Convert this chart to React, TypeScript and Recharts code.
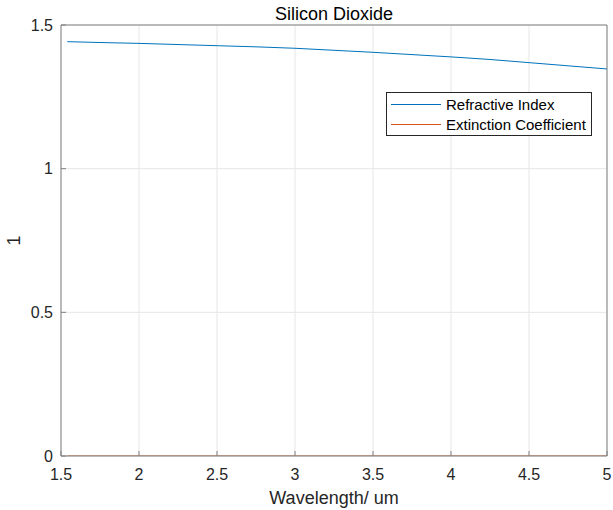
import { LineChart, Line, XAxis, YAxis, CartesianGrid, Label } from "recharts";

const wavelengths = [1.54, 1.75, 2, 2.25, 2.5, 2.75, 3, 3.25, 3.5, 3.75, 4, 4.25, 4.5, 4.75, 5];
const refractiveIndex = [1.442, 1.439, 1.436, 1.432, 1.428, 1.424, 1.419, 1.412, 1.405, 1.397, 1.389, 1.38, 1.369, 1.358, 1.347];
const extinctionCoefficient = [0, 0, 0, 0, 0, 0, 0, 0, 0, 0, 0, 0, 0, 0, 0];
const xTicks = [1.5, 2, 2.5, 3, 3.5, 4, 4.5, 5];
const yTicks = [0, 0.5, 1, 1.5];

const seriesNames = ["Refractive Index", "Extinction Coefficient"];
const seriesColors = ["#0072BD", "#D95319"];

const data = wavelengths.map((w, i) => ({
  w,
  n: refractiveIndex[i],
  k: extinctionCoefficient[i],
}));

const font = "'Liberation Sans', Arial, sans-serif";
const tickStyle = { fontSize: 16, fill: "#262626", fontFamily: font };
const labelStyle = { fontSize: 18, fill: "#262626", fontFamily: font };
const boxColor = "#808080";

function LegendBox() {
  return (
    <div
      style={{
        position: "absolute",
        left: 386,
        top: 92,
        boxSizing: "border-box",
        border: "1px solid #262626",
        background: "#fff",
        width: 206,
        height: 44,
        padding: "2px 0",
        fontFamily: font,
        fontSize: 15,
        color: "#000",
      }}
    >
      {seriesNames.map((name, i) => (
        <div key={name} style={{ display: "flex", alignItems: "center", height: 19.5 }}>
          <div style={{ width: 50, height: 0, borderTop: `1px solid ${seriesColors[i]}`, marginLeft: 4, marginRight: 5 }} />
          <span>{name}</span>
        </div>
      ))}
    </div>
  );
}

export default function App() {
  return (
    <div style={{ position: "fixed", left: 0, top: 0, width: 613, height: 510, background: "#fff" }}>
      <LineChart width={613} height={510} data={data} margin={{ top: 0, right: 0, bottom: 0, left: 0 }}>
        <CartesianGrid xAxisId="bottom" yAxisId="left" stroke="#e6e6e6" strokeWidth={1} />
        <XAxis
          xAxisId="bottom"
          dataKey="w"
          type="number"
          domain={[1.5, 5]}
          ticks={xTicks}
          height={54}
          tickSize={-5}
          tickMargin={18}
          tick={tickStyle}
          stroke={boxColor}
          interval={0}
          allowDataOverflow
        >
          <Label value="Wavelength/ um" position="insideBottom" offset={6} style={labelStyle} />
        </XAxis>
        <XAxis
          xAxisId="top"
          orientation="top"
          dataKey="w"
          type="number"
          domain={[1.5, 5]}
          ticks={xTicks}
          height={25}
          tickSize={-5}
          tick={false}
          stroke={boxColor}
          interval={0}
          allowDataOverflow
        />
        <YAxis
          yAxisId="left"
          type="number"
          domain={[0, 1.5]}
          ticks={yTicks}
          width={61}
          tickSize={-5}
          tickMargin={13}
          tick={tickStyle}
          stroke={boxColor}
          interval={0}
          allowDataOverflow
        >
          <Label value="1" angle={-90} position="insideLeft" offset={14} style={{ ...labelStyle, textAnchor: "middle" }} />
        </YAxis>
        <YAxis
          yAxisId="right"
          orientation="right"
          type="number"
          domain={[0, 1.5]}
          ticks={yTicks}
          width={6}
          tickSize={-5}
          tick={false}
          stroke={boxColor}
          interval={0}
          allowDataOverflow
        />
        <Line
          xAxisId="bottom"
          yAxisId="left"
          type="linear"
          dataKey="n"
          name={seriesNames[0]}
          stroke={seriesColors[0]}
          strokeWidth={1}
          dot={false}
          isAnimationActive={false}
        />
        <Line
          xAxisId="bottom"
          yAxisId="left"
          type="linear"
          dataKey="k"
          name={seriesNames[1]}
          stroke={seriesColors[1]}
          strokeWidth={1}
          dot={false}
          isAnimationActive={false}
        />
      </LineChart>
      <div
        style={{
          position: "absolute",
          left: 61,
          width: 546,
          top: 4,
          lineHeight: "20px",
          textAlign: "center",
          fontFamily: font,
          fontSize: 18,
          color: "#000",
        }}
      >
        Silicon Dioxide
      </div>
      <LegendBox />
    </div>
  );
}
